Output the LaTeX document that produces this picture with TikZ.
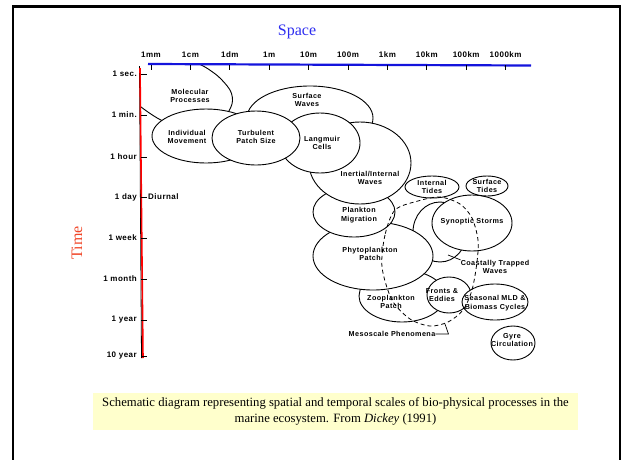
\documentclass[tikz,border=0pt]{standalone}
\usepackage{fontspec}
\setmainfont{Liberation Serif}
\newfontfamily\figfont[LetterSpace=6]{Liberation Sans}
\usetikzlibrary{positioning}
\definecolor{spaceblue}{RGB}{45,45,240}
\definecolor{timered}{RGB}{240,70,40}
\definecolor{axisblue}{RGB}{20,20,220}
\definecolor{capyellow}{RGB}{255,255,204}
\tikzset{
  blob/.style={draw, fill=white, line width=0.9pt},
  lbl/.style={font=\figfont\bfseries\fontsize{7.2}{8.6}\selectfont, align=center, inner sep=0pt},
  ticklbl/.style={font=\figfont\bfseries\fontsize{8}{9}\selectfont, inner sep=0pt},
}
\begin{document}
\begin{tikzpicture}[x=1pt, y=-1pt]
	\useasboundingbox (0,0) rectangle (622,459);
	\draw[line width=2.4pt] (13,6.5) rectangle (620,480);
	\node[font=\fontsize{16}{18}\selectfont, text=spaceblue] (space) at (297,32) {Space};
	\node[font=\fontsize{16}{18}\selectfont, text=timered, rotate=90] (time) at (77,243) {Time};
	\begin{scope}
		\clip (141,64) rectangle (300,200);
		\draw[blob] plot[smooth cycle] coordinates {(120,58) (188,61) (214,73) (230,90) (232,104) (222,118) (190,128) (163,121) (141,107) (124,92)};
	\end{scope}
	\draw[blob] (206,136) ellipse [x radius=54, y radius=27];
	\draw[blob] (310,118) ellipse [x radius=63, y radius=32];
	\draw[blob] (440,232) ellipse [x radius=27, y radius=30];
	\draw[blob] (402,296) ellipse [x radius=43, y radius=26];
	\draw[blob] (373,256) ellipse [x radius=60, y radius=34];
	\draw[blob] (354,212) ellipse [x radius=41, y radius=25];
	\draw[blob] (360,163) ellipse [x radius=51, y radius=41];
	\draw[blob] (320,143) ellipse [x radius=40, y radius=30];
	\draw[blob] (256,138) ellipse [x radius=44, y radius=27];
	\draw[blob] (449,295) ellipse [x radius=22, y radius=18];
	\draw[blob] (495,302) ellipse [x radius=33, y radius=18];
	\draw[blob] (472,223) ellipse [x radius=40, y radius=28];
	\draw[blob] (432,187) ellipse [x radius=27, y radius=11];
	\draw[blob] (487,186) ellipse [x radius=21, y radius=10];
	\draw[blob] (513,343) ellipse [x radius=22, y radius=17];
	\draw[line width=0.8pt, dash pattern=on 4pt off 3pt] plot[smooth cycle] coordinates {(395,210) (385,235) (382,267) (392,300) (410,319) (430,326) (448,322) (463,310) (472,290) (477,262) (478,240) (472,218) (460,204) (440,197) (418,201)};
	\draw[axisblue, line width=2.2pt] (148,64) -- (531,65.5);
	\foreach \lab [count=\i from 0] in {1mm,1cm,1dm,1m,10m,100m,1km,10km,100km,1000km} {
		\pgfmathsetmacro\xx{151+39.4*\i}
		\draw[line width=0.7pt] (\xx,65) -- (\xx,70);
		\node[ticklbl] (sp\i) at (\xx,55) {\lab};
	}
	\draw[line width=0.8pt] (139.5,66) -- (141.5,358);
	\draw[red, line width=1.6pt] (140,68) -- (143,358);
	\foreach \lab/\yy [count=\i] in {1 sec./74, 1 min./115, 1 hour/157, 1 day/197, 1 week/238, 1 month/279, 1 year/320, 10 year/356} {
		\draw[line width=0.7pt] (141,\yy) -- (147,\yy);
		\node[ticklbl, anchor=east] (tm\i) at (137,\yy) {\lab};
	}
	\node[ticklbl, right=5pt of tm4.east, xshift=6pt] (diurnal) {Diurnal};
	\node[lbl] (mp) at (190,96) {Molecular\\Processes};
	\node[lbl] (im) at (187,137) {Individual\\Movement};
	\node[lbl] (tps) at (256,137) {Turbulent\\Patch Size};
	\node[lbl] (sw) at (307,100) {Surface\\Waves};
	\node[lbl] (lc) at (322,143) {Langmuir\\Cells};
	\node[lbl] (iiw) at (370,178) {Inertial/Internal\\Waves};
	\node[lbl] (it) at (432,187) {Internal\\Tides};
	\node[lbl] (st) at (487,186) {Surface\\Tides};
	\node[lbl] (pm) at (359,215) {Plankton\\Migration};
	\node[lbl] (ss) at (472,222) {Synoptic Storms};
	\node[lbl] (pp) at (370,254) {Phytoplankton\\Patch};
	\node[lbl] (ctw) at (495,267) {Coastally Trapped\\Waves};
	\node[lbl] (fe) at (442,295) {Fronts \&\\Eddies};
	\node[lbl] (smld) at (495,303) {Seasonal MLD \&\\Biomass Cycles};
	\node[lbl] (zp) at (391,302) {Zooplankton\\Patch};
	\node[lbl] (gyre) at (512,340) {Gyre\\Circulation};
	\node[lbl] (meso) at (392,334) {Mesoscale Phenomena};
	\coordinate (ctwtip) at (448,255);
	\coordinate (mesotip) at (445,324);
	\draw[line width=0.7pt] (ctw.north west) -- (ctwtip);
	\draw[line width=0.7pt] (meso.east) -- ++(13,0) -- (mesotip);
	\node[fill=capyellow, minimum width=485, minimum height=37, align=center, font=\fontsize{12.7}{16}\selectfont] (caption) at (335.5,411.5) {Schematic diagram representing spatial and temporal scales of bio-physical processes in the\\marine ecosystem. From \textit{Dickey} (1991)};
\end{tikzpicture}
\end{document}
